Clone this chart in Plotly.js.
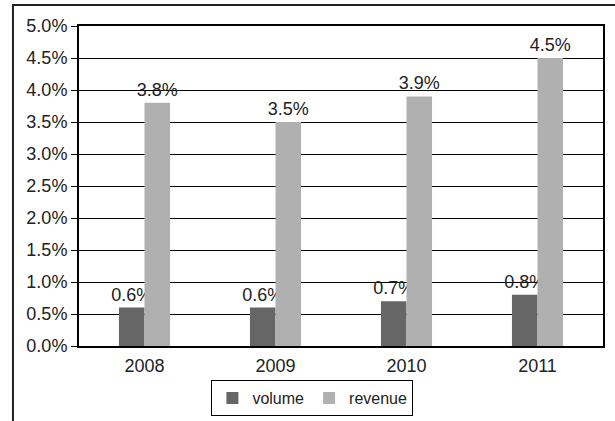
<!DOCTYPE html>
<html>
<head>
<meta charset="utf-8">
<script src="https://cdn.plot.ly/plotly-3.0.1.min.js"></script>
<style>
  html, body { margin: 0; padding: 0; background: #fff; }
  #chart { width: 615px; height: 421px; }
</style>
</head>
<body>
<div id="chart"></div>
<script>
// Yearly growth figures
const years = ['2008', '2009', '2010', '2011'];
const volume = [0.006, 0.006, 0.007, 0.008];
const revenue = [0.038, 0.035, 0.039, 0.045];
const yTicks = [0, 0.005, 0.01, 0.015, 0.02, 0.025, 0.03, 0.035, 0.04, 0.045, 0.05];

function mkFont(size) {
  return { family: 'Liberation Sans, Arial, sans-serif', size: size || 18, color: '#222' };
}

const traces = [
  {
    type: 'bar', name: 'volume', x: years, y: volume,
    marker: { color: '#666666' },
    texttemplate: '%{y:.1%}', textposition: 'outside', cliponaxis: false,
    constraintext: 'none', textfont: mkFont(), hoverinfo: 'skip'
  },
  {
    type: 'bar', name: 'revenue', x: years, y: revenue,
    marker: { color: '#b0b0b0' },
    texttemplate: '%{y:.1%}', textposition: 'outside', cliponaxis: false,
    constraintext: 'none', textfont: mkFont(), hoverinfo: 'skip'
  }
];

const layout = {
  width: 615, height: 421,
  margin: { l: 79, r: 12, t: 26, b: 75, autoexpand: false },
  paper_bgcolor: '#fff', plot_bgcolor: '#fff',
  font: mkFont(),
  barmode: 'group', bargap: 0.61, bargroupgap: 0,
  showlegend: true,
  legend: {
    orientation: 'h', xref: 'container', yref: 'container',
    x: 0.508, xanchor: 'center', y: 0.0974, yanchor: 'top',
    bordercolor: '#000', borderwidth: 1, font: mkFont(16),
    tracegroupgap: 0
  },
  xaxis: {
    type: 'category', showgrid: false, ticks: '', tickfont: mkFont(),
    ticklabelstandoff: 2, automargin: false,
    showline: true, linecolor: '#000', linewidth: 2, mirror: true
  },
  yaxis: {
    range: [0, 0.05], tickvals: yTicks, tickformat: '.1%',
    showgrid: true, gridcolor: '#000', gridwidth: 1,
    ticks: 'outside', ticklen: 6, tickcolor: '#000', tickfont: mkFont(),
    ticklabelstandoff: 0, automargin: false,
    showline: true, linecolor: '#000', linewidth: 2, mirror: true,
    zeroline: false
  },
  shapes: [
    // outer frame: left and top edges
    {
      type: 'path', xref: 'paper', yref: 'paper',
      path: 'M -0.126 -0.25 L -0.126 1.0656 L 1.03 1.0656',
      line: { color: '#222', width: 2 }
    }
  ]
};

Plotly.newPlot('chart', traces, layout, { staticPlot: true });
</script>
</body>
</html>
